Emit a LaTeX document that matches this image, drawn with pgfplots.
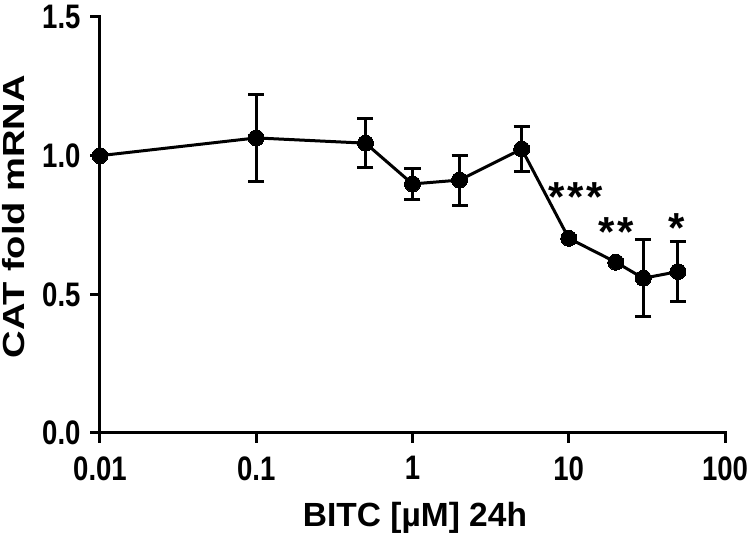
\documentclass[border=0pt]{standalone}
\usepackage{pgfplots}
\pgfplotsset{compat=1.18}
\usepackage{fontspec}
\setmainfont{Liberation Sans}
\newfontfamily\tickfont{Liberation Sans}[FakeStretch=0.81]
\newfontfamily\ylabfont{Liberation Sans}[FakeStretch=1.25]
\begin{document}
\begin{tikzpicture}
\begin{axis}[
  at={(0,0)}, anchor=south west,
  scale only axis, width=625pt, height=416pt,
  xmode=log, xmin=0.01, xmax=100,
  ymin=0, ymax=1.5,
  axis lines*=left,
  axis line style={line width=3pt, line cap=rect},
  every tick/.style={black, line width=3pt},
  tick align=outside, major tick length=10pt,
  minor tick num=0, minor x tick style={draw=none},
  xtick={0.01,0.1,1,10,100},
  xticklabels={0.01,0.1,1,10,100},
  ytick={0,0.5,1,1.5},
  yticklabel style={/pgf/number format/fixed, /pgf/number format/precision=1, /pgf/number format/fixed zerofill, xshift=-6pt},
  xticklabel style={yshift=-10pt},
  /pgf/number format/assume math mode=true,
  tick label style={font=\tickfont\fontsize{34}{37}\selectfont\bfseries},
  xlabel={BITC [µM] 24h},
  ylabel={CAT fold mRNA},
  every axis x label/.style={at={(axis description cs:0.504,-0.2252)}, anchor=base, font=\fontsize{33.5}{36}\selectfont\bfseries},
  every axis y label/.style={at={(axis description cs:-0.1376,0.5204)}, anchor=center, rotate=90, font=\ylabfont\fontsize{30.5}{34}\selectfont\bfseries},
  clip=false,
]
\addplot+[black, line width=3pt, mark=*, mark size=8pt, mark options={fill=black, draw=black, line width=0pt},
  error bars/.cd, y dir=both, y explicit,
  error bar style={line width=3pt, black},
  error mark options={rotate=90, mark size=8pt, line width=3pt, black}]
table[x=x, y=y, y error=e] {
x y e
0.01 1.000 0
0.1 1.064 0.158
0.5 1.045 0.089
1 0.898 0.057
2 0.912 0.090
5 1.024 0.080
10 0.702 0.01
20 0.616 0.01
30 0.558 0.138
50 0.582 0.107
};
\node[anchor=base, font=\fontsize{42}{44}\selectfont\bfseries, inner sep=0pt] at (axis cs:11.1,0.80) {*\kern3pt*\kern3pt*};
\node[anchor=base, font=\fontsize{42}{44}\selectfont\bfseries, inner sep=0pt] at (axis cs:20.2,0.671) {*\kern3pt*};
\node[anchor=base, font=\fontsize{42}{44}\selectfont\bfseries, inner sep=0pt] at (axis cs:49,0.686) {*};
\end{axis}
\pgfresetboundingbox
\path (-100pt,-102pt) rectangle (650pt,433pt);
\end{tikzpicture}
\end{document}
